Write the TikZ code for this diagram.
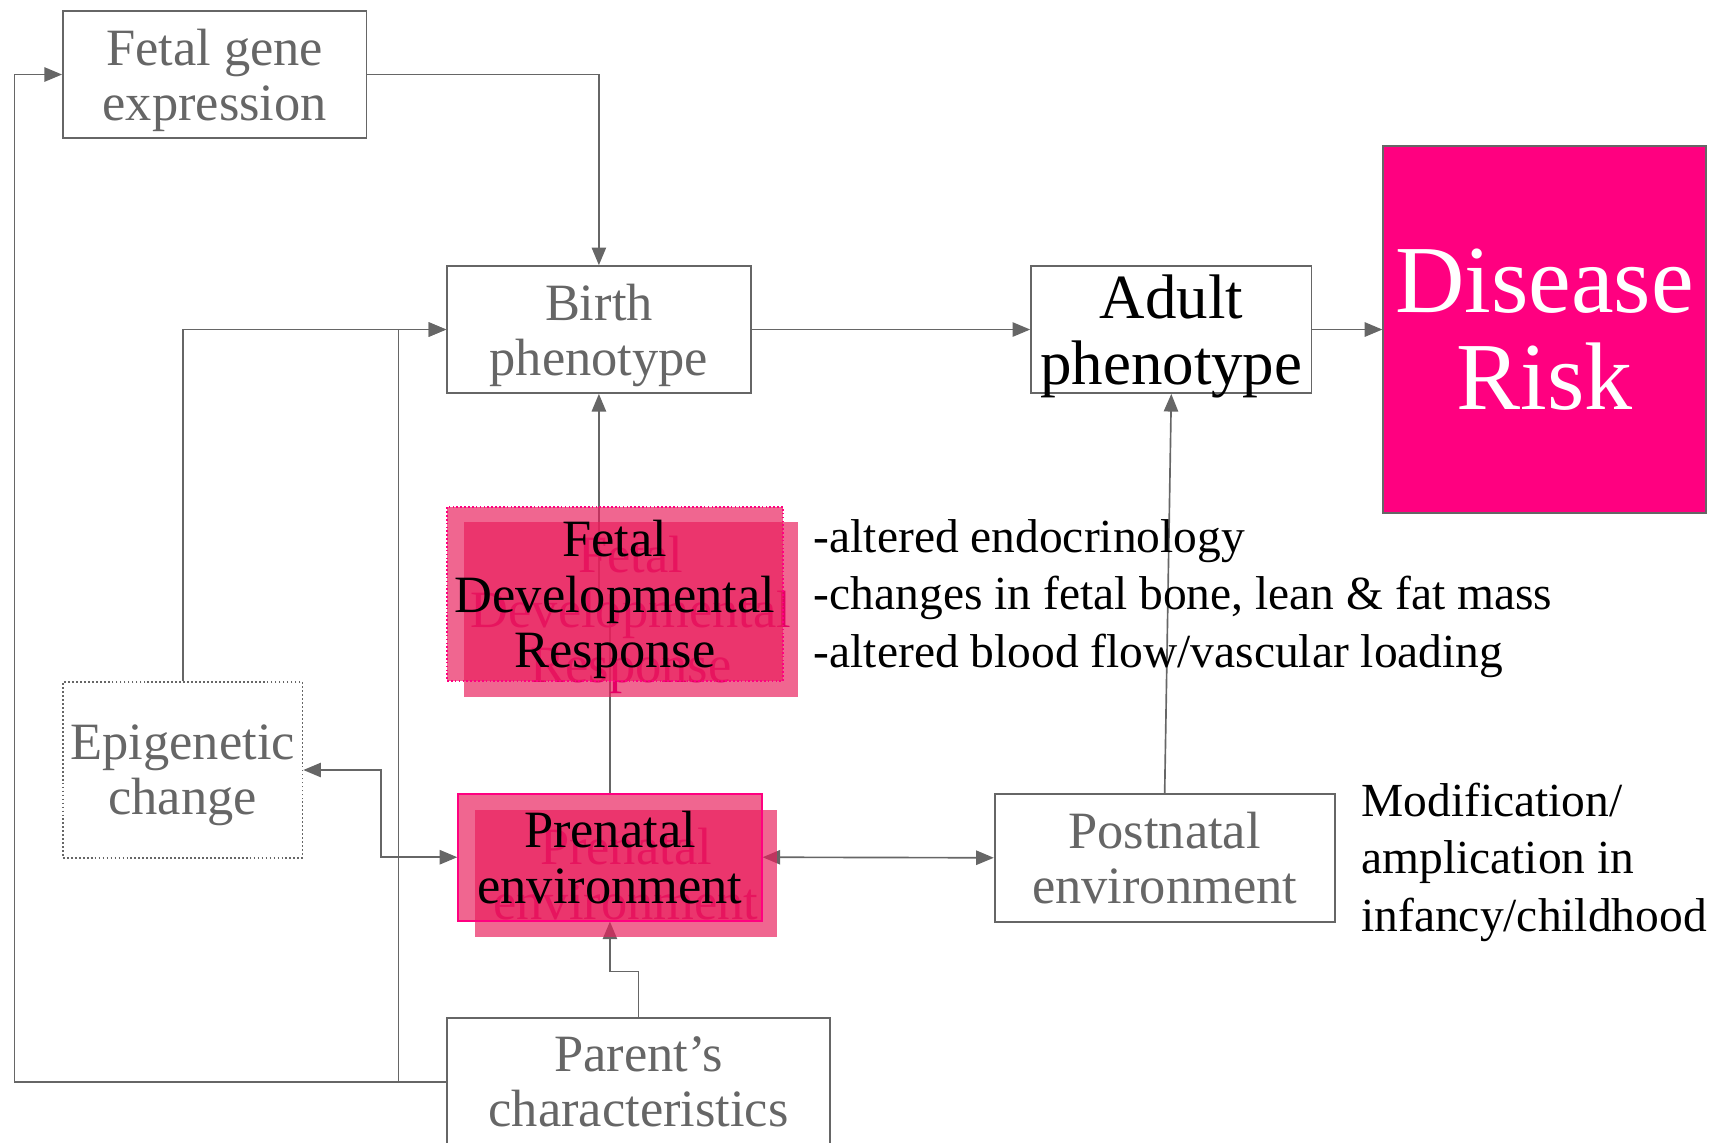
\documentclass[tikz,border=0pt]{standalone}
\usepackage{fontspec}
\setmainfont{Liberation Serif}
\usetikzlibrary{arrows.meta, backgrounds}

\definecolor{linegray}{RGB}{102,102,102}
\definecolor{hotpink}{RGB}{255,0,128}
\definecolor{rosefill}{RGB}{233,30,92}
\definecolor{ghostpink}{RGB}{228,0,100}

\begin{document}
\begin{tikzpicture}[x=1pt, y=-1pt,
    box/.style={draw=linegray, line width=1.6pt, inner sep=0pt, align=center,
        text=linegray, text depth=0pt, font=\fontsize{47.5}{50}\selectfont},
    redbox/.style={fill=rosefill, fill opacity=0.68, text opacity=1, inner sep=0pt,
        align=center, text depth=0pt, font=\fontsize{47.5}{50}\selectfont},
    note/.style={inner sep=0pt, align=left, anchor=west, font=\fontsize{43}{52}\selectfont},
    link/.style={draw=linegray, line width=1.5pt},
    arr/.style={link, -{Triangle[length=16pt, width=13pt]}},
    both/.style={link, {Triangle[length=16pt, width=13pt]}-{Triangle[length=16pt, width=13pt]}}]

    \useasboundingbox (0,0) rectangle (1568,1035);

    \coordinate (farleft) at (13, 0);
    \coordinate (midleft) at (361, 0);
    \coordinate (epibend) at (345, 0);
    \coordinate (parbend) at (0, 880);

    \node[box, minimum width=275pt, minimum height=115pt] (gene) at (194.5, 67.5) {Fetal gene\\expression};
    \node[box, minimum width=275pt, minimum height=115pt] (birth) at (542.5, 298.5) {Birth\\phenotype};
    \node[box, minimum width=254pt, minimum height=115pt, text=black,
        font=\fontsize{57}{60}\selectfont] (adult) at (1061, 298.5) {Adult\\phenotype};
    \node[box, fill=hotpink, minimum width=292pt, minimum height=333pt, text=white,
        font=\fontsize{87}{88}\selectfont] (risk) at (1399, 298.5) {Disease\\Risk};

    \node[redbox, text=ghostpink, minimum width=303pt, minimum height=158pt] (fdrb) at (571.5, 552) {Fetal\\Developmental\\Response};
    \node[redbox, draw=hotpink, dotted, line width=1.5pt, minimum width=304pt, minimum height=158pt] (fdr) at (557, 538) {Fetal\\Developmental\\Response};

    \node[box, dotted, line width=1.5pt, minimum width=217pt, minimum height=159pt] (epi) at (165.5, 697.5) {Epigenetic\\change};

    \node[redbox, text=ghostpink, minimum width=274pt, minimum height=115pt] (preb) at (567, 791.5) {Prenatal\\environment};
    \node[redbox, draw=hotpink, line width=1.5pt, minimum width=275pt, minimum height=115pt] (pre) at (552.5, 776.5) {Prenatal\\environment};

    \node[box, minimum width=308pt, minimum height=116pt] (post) at (1055, 777) {Postnatal\\environment};
    \node[box, minimum width=347pt, minimum height=116pt] (parent) at (578.5, 980) {Parent’s\\characteristics};

    \node[note] (fdrnote) at (737, 542) {-altered endocrinology\\-changes in fetal bone, lean \& fat mass\\-altered blood flow/vascular loading};
    \node[note] (postnote) at (1233, 781) {Modification/\\amplication in\\infancy/childhood};

    \begin{scope}[on background layer]
        \draw[arr] (gene.east) -| (birth.north);
        \draw[arr] (parent.west) -| (farleft |- gene.west) -- (gene.west);
        \draw[arr] (parent.west) -| (midleft |- birth.west) -- (birth.west);
        \draw[arr] (epi.north) |- (birth.west);
        \draw[both] (epi.east) -| (epibend |- pre.west) -- (pre.west);
        \draw[both] (pre.east) -- (post.west);
        \draw[arr] (parent.north) |- (parbend -| pre.south) -- (pre.south);
        \draw[link] (pre.north) -- (pre.north |- fdr.center);
        \draw[arr] (birth.south |- fdr.center) -- (birth.south);
        \draw[arr] (birth.east) -- (adult.west);
        \draw[arr] (adult.east) -- (risk.west);
        \draw[arr] (post.north) -- (adult.south);
    \end{scope}
\end{tikzpicture}
\end{document}
